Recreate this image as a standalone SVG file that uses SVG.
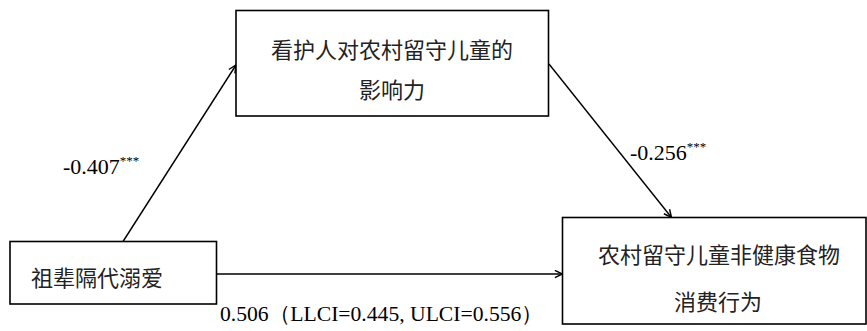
<svg xmlns="http://www.w3.org/2000/svg" width="867" height="331" viewBox="0 0 867 331">
<style>
.box{fill:#fff;stroke:#000;stroke-width:1.6}
.cjk{font-family:"Noto Sans CJK SC","Noto Sans CJK JP",sans-serif;font-size:22px;fill:#222}
.num{font-family:"Liberation Serif","Times New Roman",serif;font-size:22px;fill:#000}
.sup{font-size:13px}
.conn{stroke:#000;stroke-width:1.4;fill:none;marker-end:url(#arr)}
</style>
<defs>
<marker id="arr" viewBox="0 0 10 10" refX="9.5" refY="5" markerWidth="9" markerHeight="9" markerUnits="userSpaceOnUse" orient="auto">
<path d="M1,1 L9.5,5 L1,9" fill="none" stroke="#000" stroke-width="1.6"/>
</marker>
</defs>
<rect width="867" height="331" fill="#fff"/>
<g id="connectors">
<line class="conn" x1="123" y1="241.5" x2="236" y2="65"/>
<line class="conn" x1="549" y1="64" x2="671.5" y2="217.5"/>
<line class="conn" x1="217" y1="274" x2="562.5" y2="274"/>
</g>
<g id="node-mediator">
<rect class="box" x="236" y="10.5" width="312.5" height="105.5"/>
<text class="cjk" x="392" y="58" text-anchor="middle">看护人对农村留守儿童的</text>
<text class="cjk" x="392" y="98" text-anchor="middle">影响力</text>
</g>
<g id="node-x">
<rect class="box" x="10" y="241.5" width="206.5" height="62.5"/>
<text class="cjk" x="31" y="286">祖辈隔代溺爱</text>
</g>
<g id="node-y">
<rect class="box" x="562.5" y="217.5" width="303.5" height="106.5"/>
<text class="cjk" x="719" y="263" text-anchor="middle">农村留守儿童非健康食物</text>
<text class="cjk" x="718" y="310" text-anchor="middle">消费行为</text>
</g>
<g id="labels">
<text class="num" x="63" y="174">-0.407<tspan class="sup" dy="-9">***</tspan></text>
<text class="num" x="630" y="160">-0.256<tspan class="sup" dy="-9">***</tspan></text>
<text class="num" x="220" y="321" textLength="323" lengthAdjust="spacingAndGlyphs">0.506（LLCI=0.445, ULCI=0.556）</text>
</g>
</svg>
